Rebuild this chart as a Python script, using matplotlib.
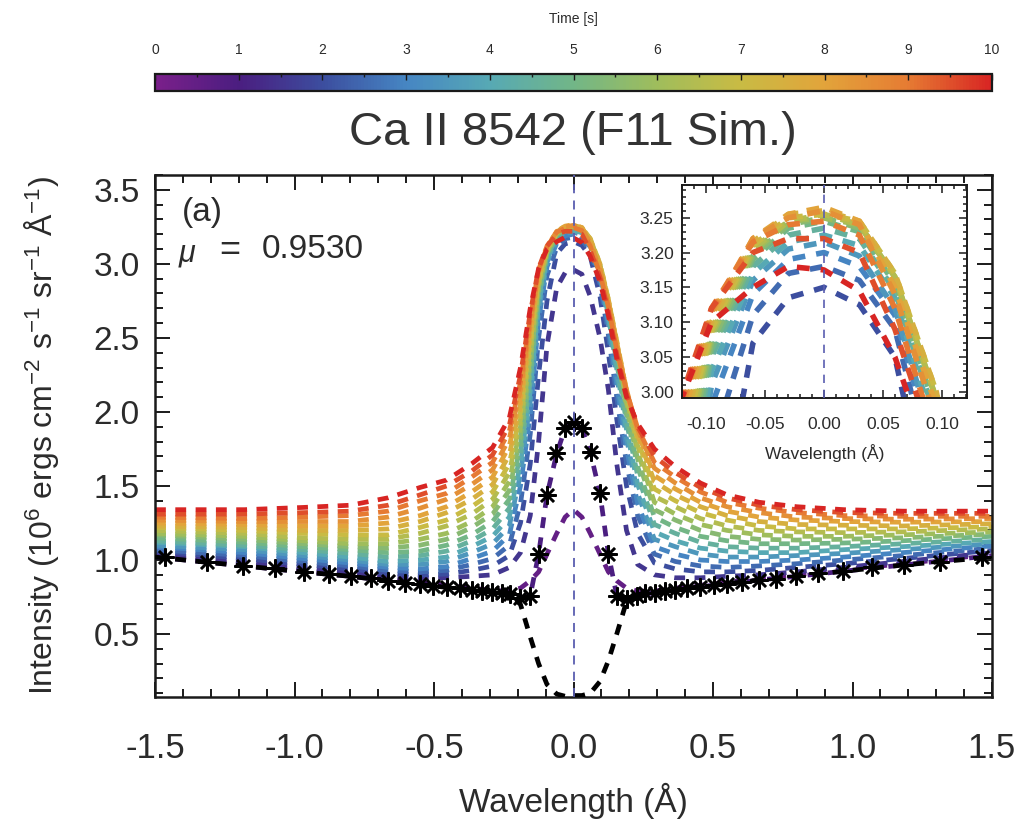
import matplotlib
matplotlib.use("Agg")
import matplotlib.pyplot as plt
from matplotlib.colors import LinearSegmentedColormap, Normalize
from matplotlib.cm import ScalarMappable
from matplotlib.ticker import MultipleLocator

plt.rcParams['font.family'] = ['Liberation Sans', 'DejaVu Sans']
plt.rcParams['mathtext.fontset'] = 'custom'
plt.rcParams['mathtext.rm'] = 'Liberation Sans'
plt.rcParams['mathtext.it'] = 'Liberation Sans:italic'

# ---------------- data ----------------
# wavelength grid (Angstrom from line centre) of the simulated profiles
wavelength = [-1.5, -1.18, -0.97, -0.80, -0.665, -0.55, -0.455, -0.365, -0.29, -0.23,
              -0.19, -0.155, -0.125, -0.095, -0.06, -0.03, 0.0, 0.03, 0.06, 0.095,
              0.125, 0.155, 0.19, 0.23, 0.29, 0.365, 0.455, 0.55, 0.665, 0.80,
              0.97, 1.18, 1.5]

times = [0.5, 1.0, 1.5, 2.0, 2.5, 3.0, 3.5, 4.0, 4.5, 5.0,
         5.5, 6.0, 6.5, 7.0, 7.5, 8.0, 8.5, 9.0, 9.5, 10.0]

int_t0p5 = [1.03, 0.97, 0.93, 0.90, 0.87, 0.85, 0.83, 0.81, 0.795, 0.79, 0.81, 0.86, 0.92, 1.04, 1.18, 1.29, 1.34,
            1.29, 1.18, 1.04, 0.92, 0.86, 0.81, 0.79, 0.79, 0.81, 0.83, 0.85, 0.875, 0.90, 0.935, 0.975, 1.04]
int_t1p0 = [1.02, 0.96, 0.92, 0.89, 0.86, 0.84, 0.82, 0.80, 0.785, 0.77, 0.745, 0.76, 1.04, 1.44, 1.72, 1.89, 1.93,
            1.89, 1.73, 1.45, 1.04, 0.76, 0.74, 0.76, 0.78, 0.80, 0.82, 0.84, 0.865, 0.89, 0.925, 0.966, 1.03]
int_t1p5 = [1.04, 0.99, 0.95, 0.92, 0.89, 0.88, 0.88, 0.89, 0.90, 0.95, 1.05, 1.30, 1.80, 2.45, 2.84, 2.94, 2.96,
            2.93, 2.78, 2.50, 2.15, 1.65, 1.20, 0.97, 0.90, 0.88, 0.88, 0.89, 0.90, 0.92, 0.95, 0.99, 1.05]
int_t2p0 = [1.06, 1.01, 0.97, 0.94, 0.91, 0.90, 0.905, 0.93, 0.96, 1.03, 1.25, 1.65, 2.25, 2.75, 3.07, 3.135, 3.15,
            3.125, 3.05, 2.78, 2.40, 1.95, 1.50, 1.18, 0.98, 0.94, 0.92, 0.92, 0.93, 0.95, 0.975, 1.01, 1.065]
int_t2p5 = [1.07, 1.03, 0.99, 0.96, 0.93, 0.92, 0.93, 0.97, 1.01, 1.10, 1.38, 1.85, 2.50, 2.92, 3.11, 3.17, 3.18,
            3.16, 3.09, 2.86, 2.52, 2.10, 1.65, 1.30, 1.04, 0.99, 0.96, 0.95, 0.96, 0.975, 1.00, 1.03, 1.08]
int_t3p0 = [1.09, 1.05, 1.01, 0.98, 0.95, 0.94, 0.955, 1.01, 1.06, 1.17, 1.50, 1.98, 2.62, 2.98, 3.14, 3.19, 3.20,
            3.18, 3.11, 2.90, 2.58, 2.18, 1.75, 1.38, 1.09, 1.04, 1.00, 0.99, 0.99, 1.00, 1.02, 1.05, 1.095]
int_t3p5 = [1.10, 1.07, 1.03, 1.00, 0.97, 0.97, 0.99, 1.05, 1.11, 1.23, 1.58, 2.07, 2.68, 3.01, 3.16, 3.205, 3.215,
            3.195, 3.12, 2.92, 2.62, 2.24, 1.82, 1.45, 1.14, 1.09, 1.04, 1.02, 1.02, 1.03, 1.045, 1.07, 1.11]
int_t4p0 = [1.12, 1.09, 1.05, 1.02, 0.99, 1.00, 1.02, 1.09, 1.16, 1.29, 1.65, 2.14, 2.73, 3.03, 3.17, 3.215, 3.225,
            3.21, 3.135, 2.94, 2.65, 2.29, 1.88, 1.51, 1.19, 1.13, 1.08, 1.06, 1.05, 1.05, 1.07, 1.09, 1.125]
int_t4p5 = [1.13, 1.10, 1.07, 1.045, 1.02, 1.03, 1.06, 1.13, 1.21, 1.35, 1.72, 2.21, 2.77, 3.05, 3.18, 3.225, 3.235,
            3.22, 3.145, 2.96, 2.68, 2.33, 1.93, 1.57, 1.24, 1.18, 1.12, 1.09, 1.08, 1.08, 1.09, 1.11, 1.14]
int_t5p0 = [1.15, 1.12, 1.09, 1.07, 1.05, 1.06, 1.10, 1.17, 1.26, 1.41, 1.78, 2.27, 2.80, 3.06, 3.19, 3.235, 3.245,
            3.23, 3.155, 2.97, 2.70, 2.37, 1.98, 1.63, 1.29, 1.22, 1.16, 1.13, 1.11, 1.11, 1.115, 1.13, 1.16]
int_t5p5 = [1.17, 1.14, 1.11, 1.09, 1.08, 1.10, 1.14, 1.22, 1.31, 1.47, 1.84, 2.32, 2.83, 3.07, 3.195, 3.24, 3.25,
            3.235, 3.16, 2.98, 2.72, 2.40, 2.02, 1.68, 1.34, 1.27, 1.20, 1.16, 1.14, 1.135, 1.14, 1.15, 1.175]
int_t6p0 = [1.18, 1.16, 1.13, 1.11, 1.11, 1.14, 1.18, 1.26, 1.36, 1.53, 1.90, 2.37, 2.85, 3.08, 3.20, 3.245, 3.25,
            3.24, 3.165, 2.99, 2.74, 2.43, 2.06, 1.73, 1.39, 1.31, 1.24, 1.20, 1.17, 1.16, 1.16, 1.17, 1.19]
int_t6p5 = [1.20, 1.18, 1.15, 1.14, 1.14, 1.18, 1.23, 1.31, 1.41, 1.59, 1.95, 2.42, 2.87, 3.085, 3.205, 3.245, 3.255,
            3.24, 3.165, 2.99, 2.75, 2.45, 2.09, 1.77, 1.43, 1.36, 1.28, 1.23, 1.20, 1.19, 1.185, 1.19, 1.21]
int_t7p0 = [1.22, 1.20, 1.18, 1.17, 1.17, 1.22, 1.27, 1.36, 1.46, 1.65, 2.00, 2.47, 2.89, 3.09, 3.21, 3.25, 3.255,
            3.245, 3.17, 3.00, 2.76, 2.47, 2.12, 1.81, 1.48, 1.40, 1.32, 1.27, 1.23, 1.21, 1.21, 1.21, 1.225]
int_t7p5 = [1.23, 1.22, 1.20, 1.20, 1.21, 1.26, 1.32, 1.41, 1.51, 1.71, 2.05, 2.51, 2.91, 3.10, 3.215, 3.255, 3.26,
            3.245, 3.17, 3.00, 2.76, 2.48, 2.14, 1.84, 1.53, 1.44, 1.36, 1.30, 1.26, 1.24, 1.235, 1.23, 1.245]
int_t8p0 = [1.25, 1.24, 1.23, 1.23, 1.25, 1.30, 1.36, 1.46, 1.56, 1.77, 2.10, 2.55, 2.93, 3.11, 3.22, 3.255, 3.265,
            3.245, 3.15, 2.98, 2.75, 2.47, 2.15, 1.86, 1.57, 1.48, 1.39, 1.33, 1.29, 1.27, 1.26, 1.255, 1.26]
int_t8p5 = [1.27, 1.26, 1.26, 1.26, 1.29, 1.35, 1.41, 1.51, 1.61, 1.82, 2.15, 2.59, 2.95, 3.115, 3.22, 3.25, 3.26,
            3.24, 3.14, 2.96, 2.73, 2.45, 2.15, 1.88, 1.62, 1.52, 1.42, 1.36, 1.32, 1.29, 1.28, 1.275, 1.28]
int_t9p0 = [1.29, 1.28, 1.29, 1.30, 1.33, 1.40, 1.45, 1.56, 1.66, 1.87, 2.20, 2.63, 2.96, 3.12, 3.215, 3.24, 3.245,
            3.225, 3.12, 2.93, 2.71, 2.42, 2.14, 1.89, 1.66, 1.56, 1.46, 1.39, 1.35, 1.32, 1.30, 1.295, 1.295]
int_t9p5 = [1.31, 1.31, 1.32, 1.33, 1.37, 1.44, 1.50, 1.60, 1.71, 1.91, 2.25, 2.67, 2.97, 3.12, 3.20, 3.22, 3.22,
            3.20, 3.09, 2.91, 2.68, 2.39, 2.12, 1.90, 1.70, 1.59, 1.49, 1.42, 1.37, 1.34, 1.32, 1.315, 1.315]
int_t10p0 = [1.34, 1.34, 1.355, 1.37, 1.42, 1.49, 1.54, 1.65, 1.76, 1.96, 2.30, 2.70, 2.97, 3.10, 3.15, 3.18, 3.175,
             3.145, 3.05, 2.88, 2.65, 2.36, 2.10, 1.92, 1.75, 1.63, 1.52, 1.44, 1.39, 1.36, 1.34, 1.33, 1.33]

# pre-flare profile (t = 0)
int_preflare = [1.02, 0.96, 0.92, 0.89, 0.86, 0.836, 0.815, 0.80, 0.785, 0.77, 0.70, 0.48, 0.30, 0.16, 0.095, 0.08,
                0.085, 0.085, 0.10, 0.18, 0.32, 0.50, 0.72, 0.76, 0.78, 0.80, 0.82, 0.84, 0.865, 0.89, 0.925, 0.966,
                1.02]

# observed profile (asterisks)
obs_wavelength = [-1.463, -1.315, -1.183, -1.07, -0.966, -0.878, -0.797, -0.726, -0.665, -0.605, -0.55, -0.504,
                  -0.455, -0.407, -0.364, -0.328, -0.292, -0.256, -0.228, -0.192, -0.156, -0.125, -0.095, -0.062,
                  -0.03, 0.0, 0.03, 0.062, 0.095, 0.125, 0.156, 0.192, 0.228, 0.256, 0.292, 0.328, 0.364, 0.407,
                  0.455, 0.504, 0.55, 0.605, 0.665, 0.726, 0.797, 0.878, 0.966, 1.07, 1.183, 1.315, 1.463]
obs_intensity = [1.02, 0.99, 0.96, 0.945, 0.92, 0.905, 0.89, 0.876, 0.86, 0.847, 0.836, 0.825, 0.815, 0.81, 0.80,
                 0.79, 0.785, 0.78, 0.77, 0.745, 0.76, 1.04, 1.44, 1.72, 1.89, 1.93, 1.89, 1.73, 1.45, 1.04, 0.76,
                 0.74, 0.76, 0.775, 0.78, 0.79, 0.80, 0.81, 0.82, 0.83, 0.84, 0.85, 0.865, 0.875, 0.89, 0.91,
                 0.925, 0.95, 0.966, 0.99, 1.02]

profiles = [int_t0p5, int_t1p0, int_t1p5, int_t2p0, int_t2p5, int_t3p0, int_t3p5, int_t4p0, int_t4p5, int_t5p0,
            int_t5p5, int_t6p0, int_t6p5, int_t7p0, int_t7p5, int_t8p0, int_t8p5, int_t9p0, int_t9p5, int_t10p0]

# ---------------- styling ----------------
time_colors = ['#7a1f8a', '#4a1e80', '#3c4e9f', '#4686c3', '#57a9b4', '#72b687',
               '#9fbd5c', '#c9bb44', '#e2a43b', '#e67c33', '#d82523']
cmap = LinearSegmentedColormap.from_list('flare_time', time_colors)
norm = Normalize(vmin=0, vmax=10)

text_col = '#2b2b2b'
axis_col = '#1a1a1a'
dash = (0, (2.3, 2.0))
W, H = 1023, 826


def fx(px):
    return px / W


def fy(py):
    return 1 - py / H


fig = plt.figure(figsize=(W / 100, H / 100), dpi=100)

# ---------------- main panel ----------------
ax = fig.add_axes([fx(155), fy(697), fx(992) - fx(155), fy(175) - fy(697)])
for t, prof in zip(times, profiles):
    ax.plot(wavelength, prof, color=cmap(norm(t)), lw=3.4, linestyle=dash,
            dash_capstyle='butt', zorder=2)
ax.plot(wavelength, int_preflare, color='black', lw=3.4, linestyle=dash,
        dash_capstyle='butt', zorder=3)
ax.plot(obs_wavelength, obs_intensity, linestyle='none', marker=(8, 2, 0),
        ms=13, mew=1.8, color='black', zorder=4)
ax.axvline(0, color='#5a5eb0', lw=1.3, linestyle=(0, (5, 4)), zorder=5)

ax.set_xlim(-1.5, 1.5)
ax.set_ylim(0.075, 3.6)
ax.xaxis.set_major_locator(MultipleLocator(0.5))
ax.xaxis.set_minor_locator(MultipleLocator(0.1))
ax.yaxis.set_major_locator(MultipleLocator(0.5))
ax.yaxis.set_minor_locator(MultipleLocator(0.1))
ax.tick_params(which='both', direction='in', top=True, right=True,
               color=axis_col, width=1.4, labelcolor=text_col)
ax.tick_params(which='major', length=11)
ax.tick_params(which='minor', length=5.5)
ax.tick_params(axis='x', labelsize=25, pad=25)
ax.tick_params(axis='y', labelsize=24, pad=11)
ax.set_xticks([-1.5, -1.0, -0.5, 0.0, 0.5, 1.0, 1.5])
ax.set_xticklabels(['-1.5', '-1.0', '-0.5', '0.0', '0.5', '1.0', '1.5'])
ax.set_yticks([0.5, 1.0, 1.5, 2.0, 2.5, 3.0, 3.5])
ax.set_yticklabels(['0.5', '1.0', '1.5', '2.0', '2.5', '3.0', '3.5'])
for sp in ax.spines.values():
    sp.set_linewidth(1.8)
    sp.set_color(axis_col)

fig.text(fx(573), fy(801), 'Wavelength (Å)', ha='center', va='center',
         fontsize=24, color=text_col)
fig.text(fx(42), fy(436),
         r'Intensity (10$^{6}$ ergs cm$^{-2}$ s$^{-1}$ sr$^{-1}$ Å$^{-1}$)',
         rotation=90, ha='center', va='center', fontsize=23, color=text_col)

fig.text(fx(182), fy(212), '(a)', ha='left', va='center', fontsize=24, color=text_col)
fig.text(fx(178), fy(254), r'$\mu$', ha='left', va='center', fontsize=22, color=text_col)
fig.text(fx(230), fy(250), '=', ha='center', va='center', fontsize=26, color=text_col)
fig.text(fx(262), fy(250), '0.9530', ha='left', va='center', fontsize=24, color=text_col)

fig.text(fx(573), fy(133), 'Ca II 8542 (F11 Sim.)', ha='center', va='center',
         fontsize=34, color='#333333')

# ---------------- inset: line core ----------------
axin = fig.add_axes([fx(682), fy(398), fx(967) - fx(682), fy(185) - fy(398)])
axin.set_facecolor('white')
for t, prof in zip(times, profiles):
    axin.plot(wavelength, prof, color=cmap(norm(t)), lw=4.0, linestyle=dash,
              dash_capstyle='butt', zorder=2)
axin.axvline(0, color='#5a5eb0', lw=1.2, linestyle=(0, (5, 4)), zorder=5)
axin.set_xlim(-0.12, 0.121)
axin.set_ylim(2.991, 3.297)
axin.xaxis.set_major_locator(MultipleLocator(0.05))
axin.xaxis.set_minor_locator(MultipleLocator(0.01))
axin.yaxis.set_major_locator(MultipleLocator(0.05))
axin.yaxis.set_minor_locator(MultipleLocator(0.01))
axin.set_xticks([-0.10, -0.05, 0.0, 0.05, 0.10])
axin.set_xticklabels(['-0.10', '-0.05', '0.00', '0.05', '0.10'])
axin.set_yticks([3.00, 3.05, 3.10, 3.15, 3.20, 3.25])
axin.set_yticklabels(['3.00', '3.05', '3.10', '3.15', '3.20', '3.25'])
axin.tick_params(which='both', direction='in', top=True, right=True,
                 color=axis_col, width=1.1, labelcolor=text_col, labelsize=12.5)
axin.tick_params(which='major', length=6)
axin.tick_params(which='minor', length=3)
axin.tick_params(axis='x', pad=14)
axin.tick_params(axis='y', pad=6)
for sp in axin.spines.values():
    sp.set_linewidth(1.4)
    sp.set_color(axis_col)
axin.text(0.5, (398 - 453) / 213, 'Wavelength (Å)', transform=axin.transAxes,
          ha='center', va='center', fontsize=12.5, color=text_col)

# ---------------- colour bar ----------------
cax = fig.add_axes([fx(155), fy(91), fx(992) - fx(155), fy(74) - fy(91)])
cb = fig.colorbar(ScalarMappable(norm=norm, cmap=cmap), cax=cax, orientation='horizontal')
cb.set_ticks(list(range(11)))
cb.ax.xaxis.set_ticks_position('top')
cb.ax.xaxis.set_minor_locator(MultipleLocator(0.5))
cb.ax.tick_params(which='both', direction='in', color=axis_col, width=1.0,
                  labelsize=10, labelcolor=text_col, pad=12)
cb.ax.tick_params(which='major', length=4)
cb.ax.tick_params(which='minor', length=2)
cb.outline.set_linewidth(1.6)
cb.outline.set_edgecolor(axis_col)
fig.text(fx(573), fy(19), 'Time [s]', ha='center', va='center', fontsize=10, color=text_col)

fig.savefig('out.png', dpi=100)
